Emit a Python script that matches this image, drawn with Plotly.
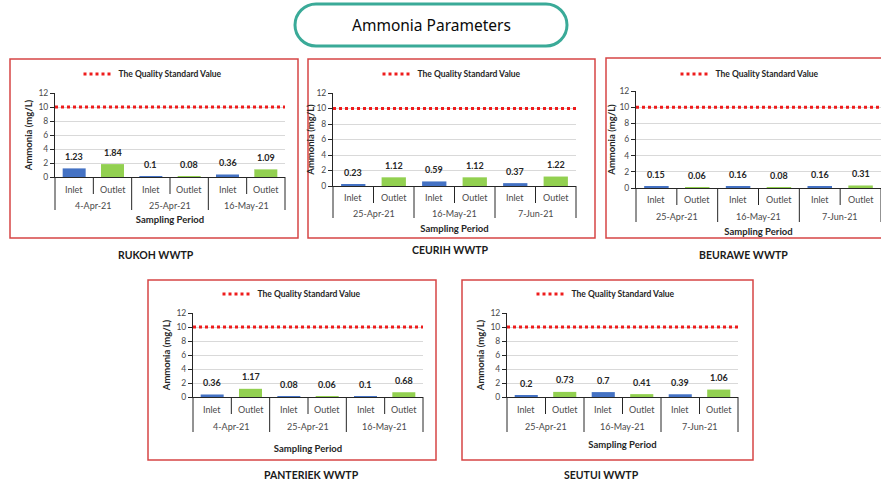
import plotly.graph_objects as go

# ---- data -------------------------------------------------------------
stations = ["RUKOH WWTP", "CEURIH WWTP", "BEURAWE WWTP", "PANTERIEK WWTP", "SEUTUI WWTP"]

rukoh_dates = ["4-Apr-21", "25-Apr-21", "16-May-21"]
rukoh_inlet = [1.23, 0.1, 0.36]
rukoh_outlet = [1.84, 0.08, 1.09]

ceurih_dates = ["25-Apr-21", "16-May-21", "7-Jun-21"]
ceurih_inlet = [0.23, 0.59, 0.37]
ceurih_outlet = [1.12, 1.12, 1.22]

beurawe_dates = ["25-Apr-21", "16-May-21", "7-Jun-21"]
beurawe_inlet = [0.15, 0.16, 0.16]
beurawe_outlet = [0.06, 0.08, 0.31]

panteriek_dates = ["4-Apr-21", "25-Apr-21", "16-May-21"]
panteriek_inlet = [0.36, 0.08, 0.1]
panteriek_outlet = [1.17, 0.06, 0.68]

seutui_dates = ["25-Apr-21", "16-May-21", "7-Jun-21"]
seutui_inlet = [0.2, 0.7, 0.39]
seutui_outlet = [0.73, 0.41, 1.06]

point_kinds = ["Inlet", "Outlet"]
standard_value = 10
standard_name = "The Quality Standard Value"
y_ticks = [0, 2, 4, 6, 8, 10, 12]

series = [
    (rukoh_dates, rukoh_inlet, rukoh_outlet),
    (ceurih_dates, ceurih_inlet, ceurih_outlet),
    (beurawe_dates, beurawe_inlet, beurawe_outlet),
    (panteriek_dates, panteriek_inlet, panteriek_outlet),
    (seutui_dates, seutui_inlet, seutui_outlet),
]

# ---- layout geometry (pixels of the 881x484 page) ----------------------
W, H = 881, 484


def fx(px):
    return px / W


def fy(py):
    return 1 - py / H


# plot area: left, right, top (y=12), bottom (y=0)
plot_boxes = [
    (55, 285, 93, 177),
    (333, 576, 93, 186),
    (636, 881, 91, 188),
    (193, 423, 313, 397),
    (507, 738, 313, 397),
]
# red frames: left, right, top, bottom
frames = [
    (10, 298, 59, 238),
    (308, 595, 59, 238),
    (606, 884, 58, 238),
    (148, 436, 280, 460),
    (462, 753, 280, 460),
]
legend_pos = [(153, 74), (452, 74), (750, 74), (292, 294), (606, 294)]
station_pos = [(156, 255), (450, 250), (743, 255), (311, 475), (601, 475)]
# offsets below the category axis (px): inner row, date row, divider end, axis title
row_offsets = [
    (12, 28, 33, 42),
    (11, 27, 32, 42),
    (11, 28, 34, 43),
    (12, 29, 35, 51),
    (12, 29, 35, 47),
]
y_title_standoff = [4, 0, 2, 4, 4]
SHORT_DIVIDER = 17

FONT = "Lato"
INLET_COLOR = "#4472C4"
OUTLET_COLOR = "#92D050"
LINE_RED = "#ee1c1c"
FRAME_RED = "#d64545"
TEAL = "#3aaa98"
AXIS_DARK = "#262626"
LABEL_GRAY = "#4a4a4a"

fig = go.Figure()
annotations = []
shapes = []
layout_axes = {}

for i, (dates, inlet, outlet) in enumerate(series):
    n = i + 1
    sfx = "" if n == 1 else str(n)
    xa, ya = "x" + sfx, "y" + sfx
    legend_id = "legend" + sfx
    inner_off, date_off, div_off, title_off = row_offsets[i]

    outer, inner, vals, colors = [], [], [], []
    for d, vin, vout in zip(dates, inlet, outlet):
        outer += [d, d]
        inner += point_kinds
        vals += [vin, vout]
        colors += [INLET_COLOR, OUTLET_COLOR]
    n_cat = len(vals)

    fig.add_trace(go.Bar(
        x=[outer, inner], y=vals, marker=dict(color=colors, line=dict(width=0)),
        width=0.6, xaxis=xa, yaxis=ya, showlegend=False, hoverinfo="x+y",
    ))

    # value labels above each bar, Inlet/Outlet labels under each bar
    for k, v in enumerate(vals):
        annotations.append(dict(
            x=k, y=v, xref=xa, yref=ya, text=f"<b>{v}</b>", showarrow=False,
            yshift=12, font=dict(family=FONT, size=9, color=AXIS_DARK),
        ))
        annotations.append(dict(
            x=k, y=0, xref=xa, yref=ya, text=inner[k], showarrow=False,
            yshift=-inner_off, yanchor="middle",
            font=dict(family=FONT, size=9, color=LABEL_GRAY),
        ))

    # date group labels
    for g, d in enumerate(dates):
        annotations.append(dict(
            x=2 * g + 0.5, y=0, xref=xa, yref=ya, text=d, showarrow=False,
            yshift=-date_off, yanchor="middle",
            font=dict(family=FONT, size=9, color=LABEL_GRAY),
        ))

    # category separators hanging below the axis: long ones between dates,
    # short ones between Inlet and Outlet
    for k in range(n_cat + 1):
        drop = div_off if k % 2 == 0 else SHORT_DIVIDER
        shapes.append(dict(
            type="line", xref=f"{xa} domain", yref=f"{ya} domain",
            x0=k / n_cat, x1=k / n_cat,
            ysizemode="pixel", yanchor=0, y0=0, y1=-drop,
            line=dict(color=AXIS_DARK, width=1),
        ))

    # quality standard reference line with its own legend
    shapes.append(dict(
        type="line", xref=f"{xa} domain", yref=ya, x0=0, x1=1,
        y0=standard_value, y1=standard_value,
        line=dict(color=LINE_RED, width=3, dash="dot"),
        showlegend=True, name=standard_name, legend=legend_id,
    ))

    l, r, t, b = plot_boxes[i]
    layout_axes["xaxis" + sfx] = dict(
        domain=[fx(l), fx(r)], anchor=ya, type="multicategory",
        range=[-0.5, n_cat - 0.5],
        showline=True, linecolor=AXIS_DARK, linewidth=1,
        ticks="", showticklabels=False, showdividers=False,
        title=dict(text="<b>Sampling Period</b>", standoff=title_off - 3,
                   font=dict(family=FONT, size=9.5, color=AXIS_DARK)),
        showgrid=False, zeroline=False, fixedrange=True, automargin=False,
    )
    layout_axes["yaxis" + sfx] = dict(
        domain=[fy(b), fy(t)], anchor=xa, range=[0, 12], tickvals=y_ticks,
        showline=True, linecolor=AXIS_DARK, linewidth=1,
        ticks="outside", ticklen=4, tickcolor=AXIS_DARK,
        showgrid=True, gridcolor="#d9d9d9", gridwidth=1, zeroline=False,
        tickfont=dict(family=FONT, size=8.5, color=LABEL_GRAY),
        title=dict(text="<b>Ammonia (mg/L)</b>", standoff=y_title_standoff[i],
                   font=dict(family=FONT, size=9.5, color=AXIS_DARK)),
        fixedrange=True, automargin=False,
    )

    lx, ly = legend_pos[i]
    layout_axes[legend_id] = dict(
        x=fx(lx), y=fy(ly), xanchor="center", yanchor="middle",
        orientation="h", bgcolor="rgba(0,0,0,0)", borderwidth=0,
        font=dict(family=FONT, size=8.5, color=AXIS_DARK, weight="bold"),
        itemwidth=30,
    )

    fl, fr, ft, fb = frames[i]
    shapes.append(dict(
        type="rect", xref="paper", yref="paper",
        x0=fx(fl), x1=fx(fr), y0=fy(fb), y1=fy(ft),
        line=dict(color=FRAME_RED, width=1.5), fillcolor="rgba(0,0,0,0)",
    ))

    sx, sy = station_pos[i]
    annotations.append(dict(
        x=fx(sx), y=fy(sy), xref="paper", yref="paper", showarrow=False,
        text=f"<b>{stations[i]}</b>", xanchor="center", yanchor="middle",
        font=dict(family=FONT, size=10.5, color="#1a1a1a"),
    ))

# rounded title badge
bx0, bx1, by0, by1, rad = 295, 567, 4, 46, 21
kk = rad * 0.5523


def pt(px, py):
    return f"{fx(px):.5f},{fy(py):.5f}"


path = (
    f"M{pt(bx0 + rad, by0)} L{pt(bx1 - rad, by0)} "
    f"C{pt(bx1 - rad + kk, by0)} {pt(bx1, by0 + rad - kk)} {pt(bx1, by0 + rad)} "
    f"C{pt(bx1, by1 - rad + kk)} {pt(bx1 - rad + kk, by1)} {pt(bx1 - rad, by1)} "
    f"L{pt(bx0 + rad, by1)} "
    f"C{pt(bx0 + rad - kk, by1)} {pt(bx0, by1 - rad + kk)} {pt(bx0, by1 - rad)} "
    f"C{pt(bx0, by0 + rad - kk)} {pt(bx0 + rad - kk, by0)} {pt(bx0 + rad, by0)} Z"
)
shapes.append(dict(type="path", xref="paper", yref="paper", path=path,
                   line=dict(color=TEAL, width=3), fillcolor="white"))
annotations.append(dict(
    x=fx(431), y=fy(25), xref="paper", yref="paper", showarrow=False,
    text="Ammonia Parameters", xanchor="center", yanchor="middle",
    font=dict(family="Noto Sans", size=15.5, color="#0a0a0a"),
))

fig.update_layout(
    width=W, height=H, margin=dict(l=0, r=0, t=0, b=0, autoexpand=False),
    paper_bgcolor="white", plot_bgcolor="white",
    barmode="overlay", shapes=shapes, annotations=annotations,
    **layout_axes,
)

fig.write_html("out.html", config={"displayModeBar": False})
